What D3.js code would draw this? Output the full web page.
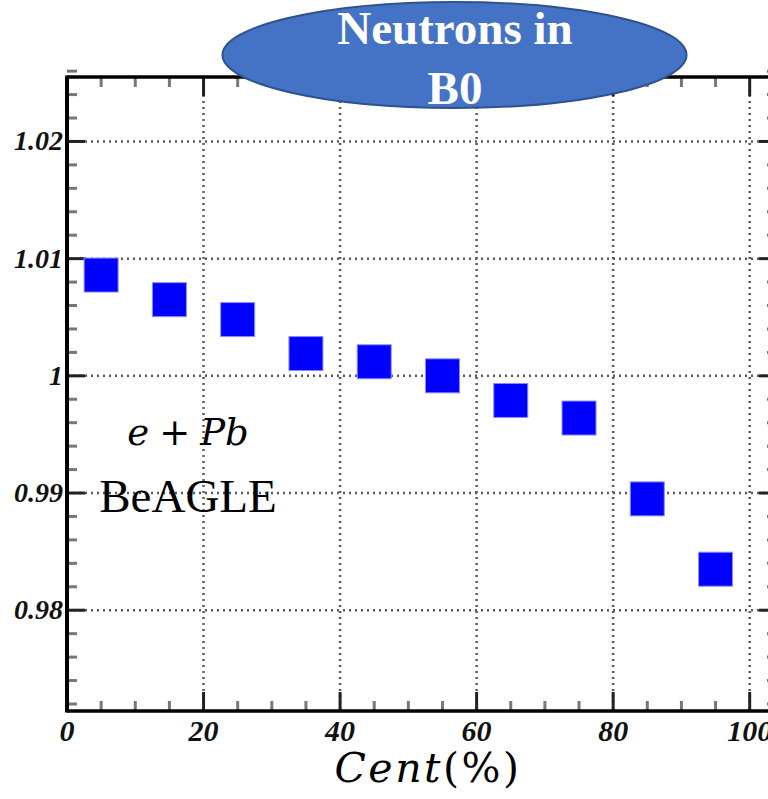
<!DOCTYPE html>
<html>
<head>
<meta charset="utf-8">
<script src="https://cdn.jsdelivr.net/npm/d3@7"></script>
<style>
  html, body { margin: 0; padding: 0; background: #fff; overflow: hidden; }
  svg { display: block; }
</style>
</head>
<body>
<svg id="chart" width="768" height="799"></svg>
<script>
// ---- data ----
const centrality = [5, 15, 25, 35, 45, 55, 65, 75, 85, 95];
const ratio = [1.0086, 1.0065, 1.0048, 1.0019, 1.0012, 1.0000, 0.9979, 0.9964, 0.9895, 0.9835];
const xMajorTicks = [0, 20, 40, 60, 80, 100];
const xTickLabels = ["0", "20", "40", "60", "80", "100"];
const yMajorTicks = [0.98, 0.99, 1.00, 1.01, 1.02];
const yTickLabels = ["0.98", "0.99", "1", "1.01", "1.02"];
const titleLines = ["Neutrons in", "B0"];
const systemLabel = "BeAGLE";

(function () {
// ---- layout ----
const svg = d3.select("#chart");
const pL = 67, pB = 711, pT = 77, pR = 777;
const x = d3.scaleLinear().domain([0, 104]).range([pL, pR]);
const y = d3.scaleLinear().domain([0.9714, 1.0255]).range([pB, pT]);

const xMinor = d3.range(0, 105, 5).filter(v => xMajorTicks.indexOf(v) < 0);
const yMinor = d3.range(0.972, 1.026, 0.002).map(v => +v.toFixed(3))
  .filter(v => yMajorTicks.every(m => Math.abs(m - v) > 1e-6));

const g = svg.append("g");

// grid (dotted)
const gridColor = "#5a5a5a";
g.selectAll("line.gx").data(xMajorTicks.filter(v => v > 0)).enter().append("line")
  .attr("x1", d => x(d)).attr("x2", d => x(d))
  .attr("y1", pT).attr("y2", pB)
  .attr("stroke", gridColor).attr("stroke-width", 2.5).attr("stroke-dasharray", "2,4");
g.selectAll("line.gy").data(yMajorTicks).enter().append("line")
  .attr("x1", pL).attr("x2", pR)
  .attr("y1", d => y(d)).attr("y2", d => y(d))
  .attr("stroke", gridColor).attr("stroke-width", 2.5).attr("stroke-dasharray", "2,4");

// minor ticks
const minorColor = "#777";
g.selectAll("line.mxb").data(xMinor).enter().append("line")
  .attr("x1", d => x(d)).attr("x2", d => x(d)).attr("y1", pB).attr("y2", pB - 10)
  .attr("stroke", minorColor).attr("stroke-width", 3);
g.selectAll("line.mxt").data(xMinor).enter().append("line")
  .attr("x1", d => x(d)).attr("x2", d => x(d)).attr("y1", pT).attr("y2", pT + 10)
  .attr("stroke", minorColor).attr("stroke-width", 3);
g.selectAll("line.myl").data(yMinor).enter().append("line")
  .attr("x1", pL).attr("x2", pL + 10).attr("y1", d => y(d)).attr("y2", d => y(d))
  .attr("stroke", minorColor).attr("stroke-width", 3);
g.selectAll("line.myr").data(yMinor).enter().append("line")
  .attr("x1", pR).attr("x2", pR - 10).attr("y1", d => y(d)).attr("y2", d => y(d))
  .attr("stroke", minorColor).attr("stroke-width", 3);

// major ticks
const majorColor = "#222";
g.selectAll("line.Mxb").data(xMajorTicks).enter().append("line")
  .attr("x1", d => x(d)).attr("x2", d => x(d)).attr("y1", pB).attr("y2", pB - 19)
  .attr("stroke", majorColor).attr("stroke-width", 3);
g.selectAll("line.Mxt").data(xMajorTicks).enter().append("line")
  .attr("x1", d => x(d)).attr("x2", d => x(d)).attr("y1", pT).attr("y2", pT + 19)
  .attr("stroke", majorColor).attr("stroke-width", 3);
g.selectAll("line.Myl").data(yMajorTicks).enter().append("line")
  .attr("x1", pL).attr("x2", pL + 18).attr("y1", d => y(d)).attr("y2", d => y(d))
  .attr("stroke", majorColor).attr("stroke-width", 3);
g.selectAll("line.Myr").data(yMajorTicks).enter().append("line")
  .attr("x1", pR).attr("x2", pR - 18).attr("y1", d => y(d)).attr("y2", d => y(d))
  .attr("stroke", majorColor).attr("stroke-width", 3);

// frame
g.append("line").attr("x1", pL).attr("x2", pL).attr("y1", pT - 1.5).attr("y2", pB + 1.5)
  .attr("stroke", "#000").attr("stroke-width", 4);
g.append("line").attr("x1", pL).attr("x2", pR).attr("y1", pB).attr("y2", pB)
  .attr("stroke", "#000").attr("stroke-width", 3.5);
g.append("line").attr("x1", pL).attr("x2", pR).attr("y1", pT).attr("y2", pT)
  .attr("stroke", "#000").attr("stroke-width", 3.5);
g.append("line").attr("x1", pR).attr("x2", pR).attr("y1", pT).attr("y2", pB)
  .attr("stroke", "#000").attr("stroke-width", 3.5);

// tick labels
g.selectAll("text.yl").data(yMajorTicks).enter().append("text")
  .attr("x", pL - 4).attr("y", d => y(d) + 9)
  .attr("text-anchor", "end")
  .attr("font-family", "'Liberation Serif', 'Times New Roman', serif")
  .attr("font-weight", "bold").attr("font-style", "italic")
  .attr("font-size", 28).attr("fill", "#111")
  .text((d, i) => yTickLabels[i]);
g.selectAll("text.xl").data(xMajorTicks).enter().append("text")
  .attr("x", d => x(d)).attr("y", 741)
  .attr("text-anchor", "middle")
  .attr("font-family", "'Liberation Serif', 'Times New Roman', serif")
  .attr("font-weight", "bold").attr("font-style", "italic")
  .attr("font-size", 30).attr("fill", "#111")
  .text((d, i) => xTickLabels[i]);

// markers
const ms = 34;
g.selectAll("rect.pt").data(centrality).enter().append("rect")
  .attr("x", d => x(d) - ms / 2)
  .attr("y", (d, i) => y(ratio[i]) - ms / 2)
  .attr("width", ms).attr("height", ms)
  .attr("fill", "#0000ff")
  .attr("stroke", "#8c8cff").attr("stroke-width", 1);

// annotations
const ann = svg.append("text")
  .attr("x", 188).attr("y", 445).attr("text-anchor", "middle")
  .attr("font-family", "'DejaVu Serif', 'Liberation Serif', serif")
  .attr("font-size", 37).attr("fill", "#000");
ann.append("tspan").attr("font-style", "italic").text("e");
ann.append("tspan").attr("dx", 10).text("+");
ann.append("tspan").attr("dx", 10).attr("font-style", "italic").text("Pb");

svg.append("text")
  .attr("x", 188).attr("y", 512).attr("text-anchor", "middle")
  .attr("font-family", "'Liberation Serif', 'Times New Roman', serif")
  .attr("font-size", 47).attr("fill", "#000")
  .text(systemLabel);

// axis title
const xt = svg.append("text")
  .attr("x", 428).attr("y", 782).attr("text-anchor", "middle")
  .attr("font-family", "'DejaVu Serif', 'Liberation Serif', serif")
  .attr("font-size", 41).attr("letter-spacing", 2.5).attr("fill", "#000");
xt.append("tspan").attr("font-style", "italic").text("Cent");
xt.append("tspan").text("(%)");

// title ellipse
svg.append("ellipse")
  .attr("cx", 454.5).attr("cy", 55).attr("rx", 232).attr("ry", 53)
  .attr("fill", "#4472c4").attr("stroke", "#2f528f").attr("stroke-width", 2);
svg.selectAll("text.title").data(titleLines).enter().append("text")
  .attr("x", 455).attr("y", (d, i) => 44 + i * 60)
  .attr("text-anchor", "middle")
  .attr("font-family", "'Liberation Serif', 'Times New Roman', serif")
  .attr("font-weight", "bold").attr("font-size", 47).attr("fill", "#fff")
  .text(d => d);
})();
</script>
</body>
</html>
